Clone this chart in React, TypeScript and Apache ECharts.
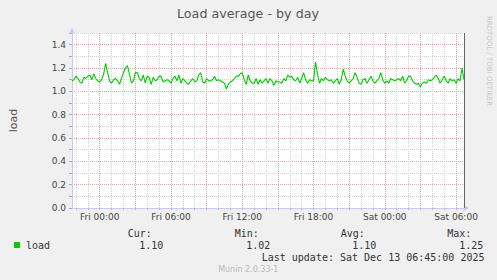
import React, { useEffect, useRef } from "react";
import * as echarts from "echarts";

// load average, 10-minute samples from Thu 21:40 to Sat 06:40
const loadValues = [
  1.09, 1.10, 1.13, 1.11, 1.08, 1.07, 1.12, 1.11, 1.13, 1.14,
  1.10, 1.15, 1.11, 1.09, 1.08, 1.10, 1.15, 1.24, 1.16, 1.09,
  1.07, 1.10, 1.11, 1.09, 1.06, 1.11, 1.16, 1.20, 1.22, 1.15,
  1.07, 1.09, 1.16, 1.16, 1.11, 1.09, 1.14, 1.07, 1.13, 1.12,
  1.06, 1.12, 1.09, 1.10, 1.13, 1.13, 1.08, 1.09, 1.10, 1.09,
  1.07, 1.11, 1.13, 1.09, 1.14, 1.07, 1.11, 1.09, 1.07, 1.06,
  1.09, 1.11, 1.08, 1.09, 1.14, 1.16, 1.08, 1.07, 1.11, 1.09,
  1.09, 1.10, 1.13, 1.09, 1.10, 1.09, 1.08, 1.07, 1.02, 1.06,
  1.08, 1.09, 1.11, 1.13, 1.13, 1.15, 1.16, 1.10, 1.06, 1.14,
  1.09, 1.07, 1.07, 1.11, 1.06, 1.10, 1.07, 1.09, 1.11, 1.07,
  1.11, 1.09, 1.05, 1.09, 1.08, 1.08, 1.07, 1.11, 1.09, 1.14,
  1.12, 1.13, 1.10, 1.09, 1.12, 1.07, 1.11, 1.16, 1.10, 1.07,
  1.10, 1.09, 1.09, 1.25, 1.15, 1.07, 1.11, 1.09, 1.12, 1.10,
  1.09, 1.10, 1.07, 1.09, 1.11, 1.06, 1.10, 1.19, 1.13, 1.09,
  1.07, 1.09, 1.11, 1.16, 1.12, 1.07, 1.06, 1.10, 1.11, 1.07,
  1.10, 1.13, 1.09, 1.07, 1.09, 1.11, 1.16, 1.10, 1.07, 1.09,
  1.07, 1.11, 1.10, 1.09, 1.10, 1.11, 1.09, 1.13, 1.07, 1.09,
  1.13, 1.13, 1.09, 1.07, 1.06, 1.07, 1.04, 1.07, 1.08, 1.07,
  1.10, 1.09, 1.10, 1.12, 1.14, 1.11, 1.07, 1.10, 1.13, 1.09,
  1.07, 1.11, 1.09, 1.10, 1.07, 1.11, 1.09, 1.20, 1.10,
];

const startDay = ["Thu", "Fri", "Sat"];
const startMinutes = 21 * 60 + 40;
const stepMinutes = 10;

const timeCategories: string[] = loadValues.map((_, i) => {
  const t = startMinutes + i * stepMinutes;
  const day = startDay[Math.floor(t / 1440)];
  const m = t % 1440;
  const hh = String(Math.floor(m / 60)).padStart(2, "0");
  const mm = String(m % 60).padStart(2, "0");
  return `${day} ${hh}:${mm}`;
});

const xTickLabels = ["Fri 00:00", "Fri 06:00", "Fri 12:00", "Fri 18:00", "Sat 00:00", "Sat 06:00"];
const majorHours = ["00", "03", "06", "09", "12", "15", "18", "21"];

const legendHeaders = ["Cur:", "Min:", "Avg:", "Max:"];
const legendValues = ["1.10", "1.02", "1.10", "1.25"];
const legendHeaderX = [127.7, 234.7, 340.7, 447.3];
const legendValueX = [139.3, 246.3, 352.3, 459.3];

const SANS = "DejaVu Sans";
const MONO = "DejaVu Sans Mono";
const GRAY_GRID = "#d4d4d4";
const RED_GRID = "#eba3a3";
const AXIS = "#c8c8f8";

export default function App() {
  const ref = useRef<HTMLDivElement>(null);
  useEffect(() => {
    document.body.style.margin = "0";
    document.body.style.background = "#f0f0f0";
    const chart = echarts.init(ref.current!, null, { renderer: "svg" });
    const isHour = (_i: number, v: string) => v.endsWith(":00");
    const isMinorHour = (_i: number, v: string) => v.endsWith(":00") && !majorHours.includes(v.slice(4, 6));
    const isMajorHour = (_i: number, v: string) => v.endsWith(":00") && majorHours.includes(v.slice(4, 6));
    const axisLine = {
      show: true,
      lineStyle: { color: AXIS, width: 1 },
      symbol: ["none", "arrow"],
      symbolSize: [5, 6],
      symbolOffset: [0, 5],
    };
    const option: any = {
      animation: false,
      backgroundColor: "#f0f0f0",
      grid: { left: 67, top: 33, width: 397, height: 175, backgroundColor: "#ffffff", show: true, borderWidth: 0 },
      xAxis: [
        {
          type: "category",
          data: timeCategories,
          boundaryGap: false,
          axisLine: { show: false },
          axisTick: { show: false },
          axisLabel: { show: false },
          splitLine: {
            show: true,
            interval: isMinorHour,
            lineStyle: { color: GRAY_GRID, type: [1, 1], width: 1 },
          },
        },
        {
          type: "category",
          data: timeCategories,
          boundaryGap: false,
          position: "bottom",
          axisLine,
          axisTick: { show: true, interval: isHour, length: 2, lineStyle: { color: "#bbbbbb" } },
          axisLabel: {
            interval: (_i: number, v: string) => xTickLabels.includes(v),
            margin: 4,
            fontFamily: SANS,
            fontSize: 9,
            color: "#444",
          },
          splitLine: {
            show: true,
            interval: isMajorHour,
            lineStyle: { color: RED_GRID, type: [1, 1], width: 1 },
          },
        },
      ],
      yAxis: [
        {
          type: "value",
          min: 0,
          max: 1.5,
          interval: 0.1,
          axisLine: { show: false },
          axisTick: { show: true, length: 3, lineStyle: { color: "#aaaaaa" } },
          axisLabel: { show: false },
          splitLine: { show: true, lineStyle: { color: GRAY_GRID, type: [1, 1], width: 1 } },
        },
        {
          type: "value",
          min: 0,
          max: 1.5,
          interval: 0.2,
          position: "left",
          name: "load",
          nameLocation: "middle",
          nameGap: 53,
          nameTextStyle: { fontFamily: SANS, fontSize: 11, color: "#555" },
          axisLine,
          axisTick: { show: false },
          axisLabel: {
            margin: 6,
            fontFamily: SANS,
            fontSize: 9,
            color: "#444",
            showMaxLabel: false,
            formatter: (v: number) => (v > 1.45 ? "" : v.toFixed(1)),
          },
          splitLine: {
            show: true,
            showMaxLine: false,
            lineStyle: { color: RED_GRID, type: [1, 1], width: 1 },
          },
        },
      ],
      series: [
        {
          type: "line",
          xAxisIndex: 0,
          yAxisIndex: 0,
          data: loadValues,
          symbol: "none",
          lineStyle: { color: "#00cc00", width: 1.1 },
          itemStyle: { color: "#00cc00" },
          markLine: {
            silent: true,
            symbol: "none",
            label: { show: false },
            lineStyle: { color: "#666666", type: "solid", width: 1 },
            data: [{ xAxis: timeCategories[timeCategories.length - 1] }],
          },
        },
      ],
      graphic: [
        {
          type: "text",
          x: 248,
          y: 13,
          style: {
            text: "Load average - by day",
            fontFamily: SANS,
            fontSize: 12.7,
            fill: "#555",
            align: "center",
            verticalAlign: "middle",
          },
        },
        {
          type: "text",
          x: 489,
          y: 61,
          rotation: -Math.PI / 2,
          style: {
            text: "RRDTOOL / TOBI OETIKER",
            fontFamily: SANS,
            fontSize: 7,
            fill: "#c8c8c8",
            align: "center",
            verticalAlign: "middle",
          },
        },
        { type: "rect", shape: { x: 14, y: 242, width: 6, height: 6 }, style: { fill: "#00cc00" } },
        {
          type: "text",
          x: 26,
          y: 245,
          style: { text: "load", fontFamily: MONO, fontSize: 10, fill: "#333", verticalAlign: "middle" },
        },
        ...legendHeaders.map((t, i) => ({
          type: "text",
          x: legendHeaderX[i],
          y: 233.3,
          style: { text: t, fontFamily: MONO, fontSize: 10, fill: "#333", verticalAlign: "middle" },
        })),
        ...legendValues.map((t, i) => ({
          type: "text",
          x: legendValueX[i],
          y: 245,
          style: { text: t, fontFamily: MONO, fontSize: 10, fill: "#333", verticalAlign: "middle" },
        })),
        {
          type: "text",
          x: 261.7,
          y: 257.3,
          style: {
            text: "Last update: Sat Dec 13 06:45:00 2025",
            fontFamily: MONO,
            fontSize: 10,
            fill: "#333",
            verticalAlign: "middle",
          },
        },
        {
          type: "text",
          x: 248.3,
          y: 269.3,
          style: {
            text: "Munin 2.0.33-1",
            fontFamily: SANS,
            fontSize: 8,
            fill: "#bbbbbb",
            align: "center",
            verticalAlign: "middle",
          },
        },
      ],
    };
    chart.setOption(option);
    return () => chart.dispose();
  }, []);
  return <div ref={ref} style={{ width: 497, height: 280 }} />;
}
